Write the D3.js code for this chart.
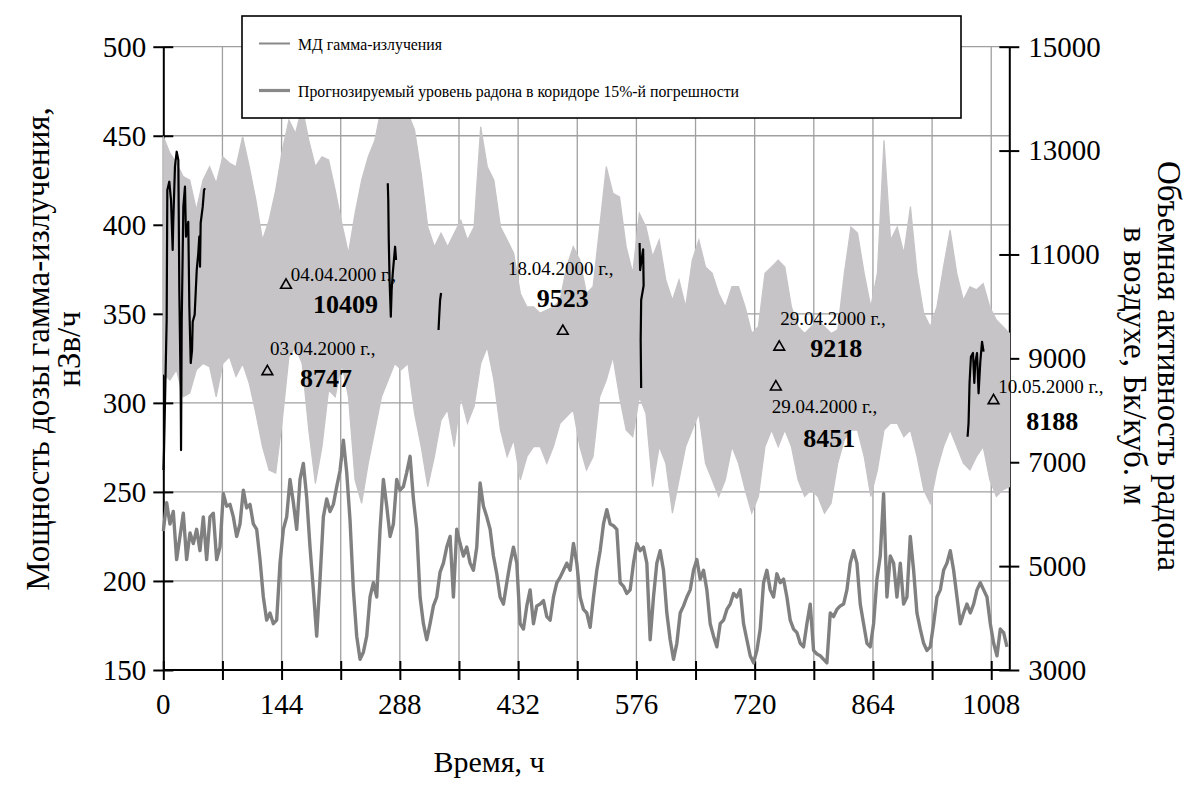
<!DOCTYPE html>
<html>
<head>
<meta charset="utf-8">
<script src="https://cdn.jsdelivr.net/npm/d3@7"></script>
<style>
  body { margin: 0; background: #fff; }
  svg { display: block; }
  text { font-family: "Liberation Serif", "Times New Roman", serif; fill: #000; }
</style>
</head>
<body>
<svg id="chart" width="1201" height="786"></svg>
<script>
// ---------------- data ----------------
// time axis, hours since 29.03.2000 00:00
const timeTicks = d3.range(0, 1009, 72);
const timeLabels = [0, 144, 288, 432, 576, 720, 864, 1008];
const doseTicks = [150, 200, 250, 300, 350, 400, 450, 500];
const radonTicks = [3000, 5000, 7000, 9000, 11000, 13000, 15000];

// gamma dose rate, nSv/h, sampled every gammaStepH hours
const gammaStepH = 4.06;
const gammaDose = [
  228,244,232,239,212,225,238,212,227,221,
  229,217,236,212,236,238,212,219,249,242,
  243,236,225,232,251,241,243,232,229,212,
  191,178,182,176,178,210,229,236,257,244,
  229,257,266,247,219,195,169,201,236,246,
  239,243,253,262,279,261,234,195,169,156,
  160,169,191,199,191,229,257,242,225,232,
  257,251,253,261,270,246,229,191,176,167,
  176,186,191,205,210,219,225,
  191,229,221,214,219,210,206,219,255,242,
  236,229,214,204,191,187,199,210,219,210,
  176,173,186,195,176,186,187,189,180,178,
  191,199,202,206,210,206,221,210,191,184,
  182,174,191,206,217,232,240,232,231,229,
  199,197,193,195,210,221,217,219,210,167,
  191,210,217,206,182,167,156,165,182,186,
  191,195,206,212,201,206,195,176,169,163,
  176,178,184,187,193,191,195,
  176,167,158,154,161,173,199,206,195,191,
  204,199,201,191,178,173,171,165,163,176,
  187,161,159,158,156,154,182,180,184,186,
  187,195,210,217,210,187,176,165,163,176,
  201,214,249,191,214,210,191,210,187,191,
  225,206,182,173,165,161,163,176,191,195,
  206,210,217,206,191,176,182,187,182,187,
  195,199,195,191,176,165,158,173,171,163
];

// predicted radon level, 15% corridor bounds, Bq/m3, sampled every bandStepH hours
const bandStepH = 8.05;
const bandHigh = [
  13270,12950,12760,12500,12430,11860,12430,12690,12370,12880,
  12760,12690,13270,12690,12050,11280,11660,12240,13010,13590,
  13330,13840,13200,12690,12880,12820,12240,11600,11020,11790,
  12430,12880,13200,13840,13970,14170,13970,13720,13400,12560,
  11530,11150,11410,
  11150,11410,11660,11280,11530,13460,12690,12430,11530,11280,
  11020,10250,9990,9990,9870,9930,9990,10120,10760,11150,
  10890,10250,10380,11530,12690,12180,12110,11150,10640,11790,
  11530,10960,11280,10510,10120,10510,9990,10890,11280,10760,
  10640,10250,9990,10380,
  10380,9990,9480,9610,10640,10760,10890,10760,9990,9610,
  9480,9610,9740,9610,9480,9550,10640,11530,11410,10640,
  9990,10640,13200,11280,11530,11020,11920,10640,9870,9610,
  9990,10760,11470,10640,10120,10380,10320,10440,9990,9740,
  9610,9480
];
const bandLow = [
  8710,8580,8780,8260,8330,8780,8900,8840,8260,8900,
  9030,8650,8900,8520,7940,7300,6850,6790,7810,9030,
  9220,8900,7620,6590,7300,8390,8260,8900,8260,6660,
  6210,6980,7620,8260,8580,8900,8780,8900,7940,7300,
  6530,7110,7810,
  8010,7300,8260,7750,8070,8900,9220,8580,7620,7110,
  7430,6660,7110,7300,7300,6980,7300,7750,7880,8010,
  7300,6850,7110,8260,8580,9030,8260,7620,7490,8260,
  7940,6530,7300,6980,6020,6660,7300,7620,7940,6980,
  6660,6340,6660,7300,
  6980,6470,6020,6340,7300,7620,7300,7620,7300,6660,
  6340,6470,6340,6020,6210,6980,7430,7620,7620,7110,
  6340,6850,7620,7750,7750,7490,7620,7110,6470,6210,
  6850,7300,7620,7300,6980,6850,7110,7300,6660,6340,
  6470,6530
];

// measured radon, [hour, Bq/m3], one list per measuring run
const radonRuns = [
  [[0.2,6850],[0.9,7235],[4.1,9738],[4.9,12241],[7.3,12401],[9.4,12048],[11.4,11086],
   [12.2,11663],[14.2,12690],[16.3,12978],[18.3,12818],[19.5,10316],[21.2,8333],[21.6,7235],
   [22.4,9680],[24.4,11920],[26.4,12305],[27.6,11342],[30.4,11630],[31.7,9994],[33.4,8910],
   [35.0,9160],[35.8,9706],[38.2,9841],[40.7,10701],[42.6,11028],[43.8,11342],[44.7,10764],
   [45.5,11606],[48.0,11920],[49.6,12241],[50.8,12274]],
  [[273.3,12370],[273.9,12048],[274.5,11278],[275.5,10508],[277.0,9802],[278.0,10316],
   [279.4,10643],[282.2,11149],[283.4,10893]],
  [[335.1,9546],[335.8,9777],[337.0,10123],[338.2,10258]],
  [[579.9,11221],[580.5,10700],[584.2,11100],[584.8,10400],[581.8,10123],[581.2,9353],[581.8,8429]],
  [[979.2,7491],[980.4,7755],[981.6,8525],[983.3,9032],[985.8,9103],[987.4,8525],[988.6,8910],
   [990.7,9103],[992.6,8327],[994.7,8935],[996.8,9320],[998.7,9128]]
];

// reference samples
const sampleDates  = ["03.04.2000 г.,", "04.04.2000 г.,", "18.04.2000 г.,", "29.04.2000 г.,", "29.04.2000 г.,", "10.05.2000 г.,"];
const sampleHours  = [126.7, 149.4, 486.4, 749.9, 745.8, 1010.8];
const sampleValues = [8747, 10409, 9523, 9218, 8451, 8188];

const legendItems = ["МД гамма-излучения", "Прогнозируемый уровень радона в коридоре 15%-й погрешности"];

// ---------------- layout ----------------
const plot = { left: 163.3, right: 1009.3, top: 46.7, bottom: 670 };
// label offsets from each sample marker: [dateDx, dateDy, valueDx, valueDy]
const sampleLabelOffsets = [
  [2.7, -16.5, 32.7, 15.5],
  [4.7, -4.2, 27, 27.8],
  [-54.7, -56.2, -26, -24.5],
  [1, -22, 31, 9.7],
  [-4, 26.1, 27.3, 60.1],
  [4.7, -7.5, 32.7, 29.5]
];

const svg = d3.select("#chart");
const x = d3.scaleLinear().domain([0, 1030]).range([plot.left, plot.right]);
const yL = d3.scaleLinear().domain([150, 500]).range([plot.bottom, plot.top]);
const yR = d3.scaleLinear().domain([3000, 15000]).range([plot.bottom, plot.top]);

const gridColor = "#a0a0a0";
const tickFont = 29;
const titleFont = 33;

// grid
const grid = svg.append("g");
grid.selectAll("line.h").data(doseTicks.slice(1)).join("line")
  .attr("x1", plot.left).attr("x2", plot.right)
  .attr("y1", d => yL(d)).attr("y2", d => yL(d))
  .attr("stroke", gridColor).attr("stroke-width", 1.3);
grid.selectAll("line.v").data(timeTicks.slice(1)).join("line")
  .attr("x1", d => x(d)).attr("x2", d => x(d))
  .attr("y1", plot.top).attr("y2", plot.bottom)
  .attr("stroke", gridColor).attr("stroke-width", 1.3);

// axes
function crossTicks(g, horiz) {
  g.select(".domain").attr("stroke", "#000").attr("stroke-width", 2);
  g.selectAll(".tick line").attr("stroke", "#000").attr("stroke-width", 2);
  if (horiz) g.selectAll(".tick line").attr("y1", -9).attr("y2", 10);
  else g.selectAll(".tick line").attr("x1", -10).attr("x2", 10);
  g.selectAll(".tick text").remove();
}
const axL = svg.append("g").attr("transform", `translate(${plot.left},0)`)
  .call(d3.axisLeft(yL).tickValues(doseTicks).tickSizeOuter(0));
crossTicks(axL, false);
const axR = svg.append("g").attr("transform", `translate(${plot.right},0)`)
  .call(d3.axisRight(yR).tickValues(radonTicks).tickSizeOuter(0));
crossTicks(axR, false);
const axB = svg.append("g").attr("transform", `translate(0,${plot.bottom})`)
  .call(d3.axisBottom(x).tickValues(timeTicks).tickSizeOuter(0));
axB.select(".domain").attr("d", `M${plot.left},0H${plot.right}`);
crossTicks(axB, true);

// tick labels
svg.append("g").selectAll("text").data(doseTicks).join("text")
  .attr("x", plot.left - 17).attr("y", d => yL(d) + tickFont * 0.34)
  .attr("text-anchor", "end").attr("font-size", tickFont).text(d => d);
svg.append("g").selectAll("text").data(radonTicks).join("text")
  .attr("x", plot.right + 19).attr("y", d => yR(d) + tickFont * 0.34)
  .attr("font-size", tickFont).text(d => d);
svg.append("g").selectAll("text").data(timeLabels).join("text")
  .attr("x", d => x(d)).attr("y", plot.bottom + 44)
  .attr("text-anchor", "middle").attr("font-size", tickFont).text(d => d);

// axis titles
svg.append("text").attr("x", 489).attr("y", 772).attr("text-anchor", "middle")
  .attr("font-size", 30).text("Время, ч");
const lt = svg.append("text").attr("transform", "translate(49,349) rotate(-90)")
  .attr("text-anchor", "middle").attr("font-size", titleFont);
lt.append("tspan").attr("x", 0).attr("y", 0).text("Мощность дозы гамма-излучения,");
lt.append("tspan").attr("x", 0).attr("y", 31).text("нЗв/ч");
const rt = svg.append("text").attr("transform", "translate(1158,366) rotate(90)")
  .attr("text-anchor", "middle").attr("font-size", titleFont);
rt.append("tspan").attr("x", 0).attr("y", 0).text("Объемная активность радона");
rt.append("tspan").attr("x", 0).attr("y", 34).text("в воздухе, Бк/куб. м");

// series
svg.append("clipPath").attr("id", "plotClip").append("rect")
  .attr("x", plot.left - 2).attr("y", plot.top).attr("width", plot.right - plot.left + 3)
  .attr("height", plot.bottom - plot.top);
const series = svg.append("g").attr("clip-path", "url(#plotClip)");

const band = d3.area()
  .x((d, i) => x(i * bandStepH))
  .y0((d, i) => yR(bandLow[i]))
  .y1((d, i) => yR(bandHigh[i]));
series.append("path").datum(bandHigh).attr("d", band)
  .attr("fill", "#c6c4c6").attr("stroke", "#c6c4c6").attr("stroke-width", 1.2);

const gammaLine = d3.line().x((d, i) => x(i * gammaStepH)).y(d => yL(d));
series.append("path").datum(gammaDose).attr("d", gammaLine)
  .attr("fill", "none").attr("stroke", "#808080").attr("stroke-width", 3.4)
  .attr("stroke-linejoin", "round");

const radonLine = d3.line().x(d => x(d[0])).y(d => yR(d[1]));
series.selectAll("path.run").data(radonRuns).join("path").attr("class", "run")
  .attr("d", radonLine).attr("fill", "none").attr("stroke", "#000")
  .attr("stroke-width", 2.2).attr("stroke-linejoin", "round");

// reference samples
const samples = sampleValues.map((v, i) => ({ v, h: sampleHours[i], date: sampleDates[i], off: sampleLabelOffsets[i] }));
svg.append("g").selectAll("path").data(samples).join("path")
  .attr("transform", d => `translate(${x(d.h)},${yR(d.v)})`)
  .attr("d", d3.symbol(d3.symbolTriangle, 50))
  .attr("fill", "none").attr("stroke", "#000").attr("stroke-width", 1.6);
const lab = svg.append("g").selectAll("g").data(samples).join("g");
lab.append("text").attr("x", d => x(d.h) + d.off[0]).attr("y", d => yR(d.v) + d.off[1])
  .attr("font-size", 19).text(d => d.date);
lab.append("text").attr("x", d => x(d.h) + d.off[2]).attr("y", d => yR(d.v) + d.off[3])
  .attr("font-size", 26).attr("font-weight", "bold").text(d => d.v);

// legend
const lg = svg.append("g");
lg.append("rect").attr("x", 242).attr("y", 16).attr("width", 719).attr("height", 102)
  .attr("fill", "#fff").attr("stroke", "#000").attr("stroke-width", 1.6);
const legendStroke = [2, 3.2];
legendItems.forEach((t, i) => {
  const yy = 43.5 + i * 47;
  lg.append("line").attr("x1", 259).attr("x2", 290).attr("y1", yy).attr("y2", yy)
    .attr("stroke", "#888").attr("stroke-width", legendStroke[i]);
  lg.append("text").attr("x", 298).attr("y", yy + 6.3).attr("font-size", 15.8).text(t);
});
</script>
</body>
</html>
